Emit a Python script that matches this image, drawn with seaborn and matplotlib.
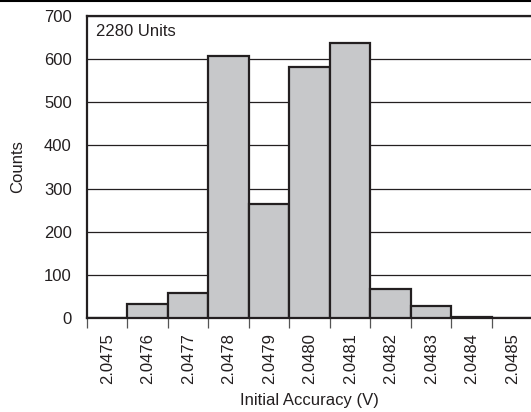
import numpy as np
import pandas as pd
import matplotlib
matplotlib.use("Agg")
import matplotlib.pyplot as plt
from matplotlib.lines import Line2D
import seaborn as sns

# bin centres (V) and unit counts per bin
bin_centers = [2.0475, 2.0476, 2.0477, 2.0478, 2.0479, 2.0480,
               2.0481, 2.0482, 2.0483, 2.0484, 2.0485]
bin_labels = ["2.0475", "2.0476", "2.0477", "2.0478", "2.0479", "2.0480",
              "2.0481", "2.0482", "2.0483", "2.0484", "2.0485"]
counts = [0, 32, 59, 608, 264, 582, 638, 67, 28, 2, 0]
y_ticks = [0, 100, 200, 300, 400, 500, 600, 700]

df = pd.DataFrame({"accuracy": bin_centers, "count": counts})
step = 0.0001
edges = [round(c - step / 2, 6) for c in bin_centers] + [round(bin_centers[-1] + step / 2, 6)]

sns.set_style("white")
plt.rcParams["font.family"] = ["Liberation Sans", "DejaVu Sans"]

fig = plt.figure(figsize=(5.31, 4.12), dpi=100)
ax = fig.add_axes([0.1638, 0.228, 0.839, 0.733])

sns.histplot(data=df, x="accuracy", weights="count", bins=edges, ax=ax,
             color="#c7c8ca", edgecolor="#231f20", linewidth=1.6, alpha=1, zorder=3)

ax.set_xlim(edges[0], edges[-1])
ax.set_ylim(0, 700)

# horizontal grid
ax.set_yticks(y_ticks)
ax.set_yticklabels([str(v) for v in y_ticks])
ax.yaxis.grid(True, color="#231f20", linewidth=0.9, zorder=0)
ax.set_axisbelow(True)
ax.tick_params(axis="y", length=0, pad=11, labelsize=12, labelcolor="#231f20")

# major ticks at bin edges, labels at bin centres
ax.set_xticks(edges)
ax.set_xticklabels([""] * len(edges))
ax.set_xticks(bin_centers, minor=True)
ax.set_xticklabels(bin_labels, minor=True, rotation=90)
ax.tick_params(axis="x", which="major", bottom=True, length=7.5, width=0.9,
               color="#555555", direction="out")
ax.tick_params(axis="x", which="minor", bottom=True, length=0, pad=11,
               labelsize=12, labelcolor="#231f20")

for side in ["left", "top", "bottom"]:
    ax.spines[side].set_visible(True)
    ax.spines[side].set_color("#231f20")
    ax.spines[side].set_linewidth(1.6)
ax.spines["right"].set_visible(False)

ax.set_xlabel("Initial Accuracy (V)", fontsize=12, color="#231f20", va="center")
ax.xaxis.set_label_coords(0.5, -0.272)
ax.set_ylabel("")
fig.text(0.033, 0.595, "Counts", rotation=90, ha="center", va="center",
         fontsize=12, color="#231f20")

ax.text(0.02, 0.95, "2280 Units", transform=ax.transAxes, ha="left", va="center",
        fontsize=12, color="#231f20")

# page border line at the top
fig.add_artist(Line2D([0, 1], [0.998, 0.998], color="black", linewidth=1.5))

fig.savefig("out.png", dpi=100)
